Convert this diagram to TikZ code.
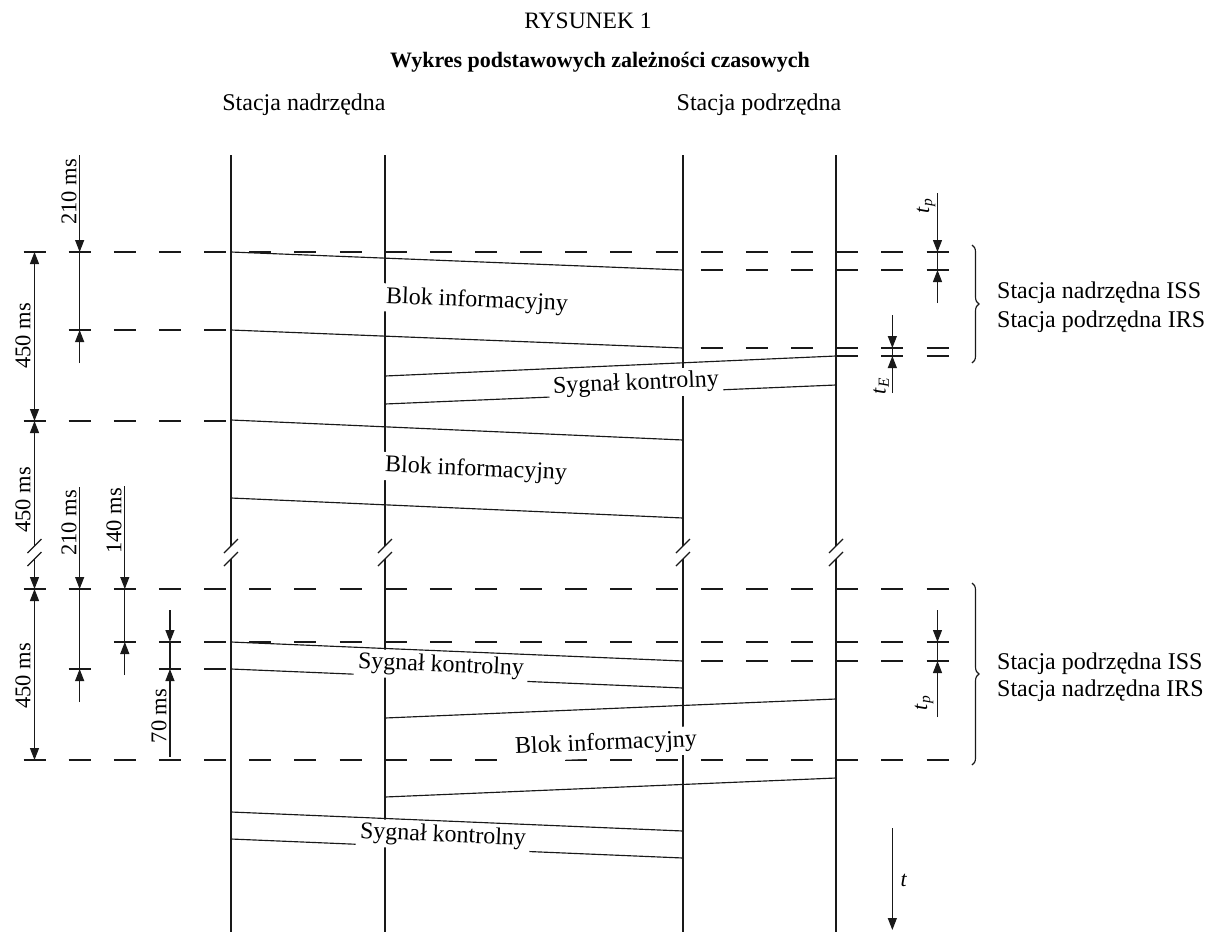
\documentclass[tikz,border=0pt]{standalone}
\usepackage{fontspec}
\setmainfont{Liberation Serif}
\usetikzlibrary{arrows.meta,decorations.pathreplacing}
\begin{document}
\begin{tikzpicture}[x=1pt,y=-1pt,
  ln/.style={line width=1.15pt, black!90},
  dashrow/.style={ln, dash pattern=on 22pt off 23.15pt},
  tip/.style={},
  arr/.style={ln, -{Triangle[length=12pt,width=9pt]}},
  dbl/.style={ln, {Triangle[length=12pt,width=9pt]}-{Triangle[length=12pt,width=9pt]}},
  startarr/.style={ln, {Triangle[length=12pt,width=9pt]}-},
  lab/.style={font=\fontsize{24}{28}\selectfont, fill=white, inner xsep=4pt, inner ysep=3pt},
  dimlab/.style={font=\fontsize{22.5}{26}\selectfont, rotate=90, inner sep=1pt},
  txt/.style={font=\fontsize{24}{28}\selectfont, inner sep=0pt},
  tlab/.style={font=\fontsize{22}{26}\selectfont, inner sep=1pt},
  bracestyle/.style={ln, decorate, decoration={brace, amplitude=7pt}},
]
\useasboundingbox (0,0) rectangle (1213,935);

% titles
\node[txt, font=\fontsize{23.5}{28}\selectfont] (title1) at (588,21) {RYSUNEK 1};
\node[txt, font=\fontsize{22}{26}\selectfont\bfseries] (title2) at (600,62) {Wykres podstawowych zależności czasowych};
\node[txt] (mst) at (304,105) {Stacja nadrzędna};
\node[txt] (slv) at (759,105) {Stacja podrzędna};

% lifelines with breaks
\foreach \x in {231,385,683,836} {
  \draw[ln] (\x,155) -- (\x,546);
  \draw[ln] (\x,559) -- (\x,932);
  \draw[ln] (\x-7,553) -- (\x+7,539);
  \draw[ln] (\x-7,566) -- (\x+7,552);
}

% dashed reference rows
\draw[dashrow] (23.5,252) -- (948.5,252);
\draw[dashrow] (700.75,270) -- (948.5,270);
\draw[dashrow] (68.65,330) -- (226.1,330);
\draw[dashrow] (700.75,348) -- (948.5,348);
\draw[dashrow] (836.2,356) -- (948.5,356);
\draw[dashrow] (23.5,421) -- (226.1,421);
\draw[dashrow] (23.5,589) -- (948.5,589);
\draw[dashrow] (113.8,642) -- (948.5,642);
\draw[dashrow] (700.75,661) -- (948.5,661);
\draw[dashrow] (68.65,669) -- (90.65,669);
\draw[dashrow] (158.95,669) -- (226.1,669);
\draw[dashrow] (23.5,760) -- (948.5,760);

% messages
\draw[ln] (231,252) -- (683,270);
\draw[ln] (231,330) -- (683,348);
\draw[ln] (836,356) -- (385,376);
\draw[ln] (836,385) -- (385,404);
\draw[ln] (231,420) -- (683,440);
\draw[ln] (231,498) -- (683,518);
\draw[ln] (231,642) -- (683,661);
\draw[ln] (231,669) -- (683,688);
\draw[ln] (836,699) -- (385,718);
\draw[ln] (836,778) -- (385,797);
\draw[ln] (231,812) -- (683,831);
\draw[ln] (231,839) -- (683,858);

% message labels
\node[lab, rotate=-2.3] (b1) at (477,301) {Blok informacyjny};
\node[lab, rotate=2.5] (s1) at (636,384) {Sygnał kontrolny};
\node[lab, rotate=-2.5] (b2) at (476,470) {Blok informacyjny};
\node[lab, rotate=-2.4] (s2) at (441,666) {Sygnał kontrolny};
\node[lab, rotate=2.4] (b3) at (606,744) {Blok informacyjny};
\node[lab, rotate=-2.5] (s3) at (443,836) {Sygnał kontrolny};

% left dimensions
\draw[arr] (79.65,155) -- (79.65,252);
\draw[ln] (79.65,252) -- (79.65,330);
\draw[arr] (79.65,363) -- (79.65,330);
\node[dimlab] (d210a) at (69,192) {210 ms};
\draw[dbl] (34.5,252) -- (34.5,421);
\node[dimlab] (d450a) at (23,336) {450 ms};
\draw[startarr] (34.5,421) -- (34.5,546);
\draw[arr] (34.5,559) -- (34.5,589);
\draw[ln] (27.5,553) -- (41.5,539);
\draw[ln] (27.5,566) -- (41.5,552);
\node[dimlab] (d450b) at (23,500) {450 ms};
\draw[dbl] (34.5,589) -- (34.5,760);
\node[dimlab] (d450c) at (23,676) {450 ms};
\draw[arr] (79.65,487) -- (79.65,589);
\draw[ln] (79.65,589) -- (79.65,669);
\draw[arr] (79.65,702) -- (79.65,669);
\node[dimlab] (d210b) at (69,523) {210 ms};
\draw[arr] (124.8,486) -- (124.8,589);
\draw[ln] (124.8,589) -- (124.8,642);
\draw[arr] (124.8,675) -- (124.8,642);
\node[dimlab] (d140) at (114,521) {140 ms};
\draw[arr] (169.95,610) -- (169.95,642);
\draw[ln] (169.95,642) -- (169.95,669);
\draw[arr] (169.95,757) -- (169.95,669);
\node[dimlab] (d70) at (159,716) {70 ms};

% right dimensions
\draw[arr] (937.5,193) -- (937.5,252);
\draw[ln] (937.5,252) -- (937.5,270);
\draw[arr] (937.5,303) -- (937.5,270);
\node[tlab, rotate=90] (tp1) at (926,206) {\textit{t}\textsubscript{\textit{p}}};
\draw[arr] (892.35,315) -- (892.35,348);
\draw[ln] (892.35,348) -- (892.35,356);
\draw[arr] (892.35,393) -- (892.35,356);
\node[tlab, rotate=90] (tE) at (881,386) {\textit{t}\textsubscript{\textit{E}}};
\draw[arr] (937.5,610) -- (937.5,642);
\draw[ln] (937.5,642) -- (937.5,661);
\draw[arr] (937.5,717) -- (937.5,661);
\node[tlab, rotate=90] (tp2) at (924,703) {\textit{t}\textsubscript{\textit{p}}};

% braces and labels
\draw[bracestyle] (972,245) -- (972,363);
\node[txt, anchor=west] (r1) at (997,293) {Stacja nadrzędna ISS};
\node[txt, anchor=west] (r2) at (997,322) {Stacja podrzędna IRS};
\draw[bracestyle] (972,583) -- (972,765);
\node[txt, anchor=west] (r3) at (997,664) {Stacja podrzędna ISS};
\node[txt, anchor=west] (r4) at (997,691) {Stacja nadrzędna IRS};

% time arrow
\draw[arr] (892.35,828) -- (892.35,930);
\node[tlab] (tt) at (904,880) {\textit{t}};
\end{tikzpicture}
\end{document}
